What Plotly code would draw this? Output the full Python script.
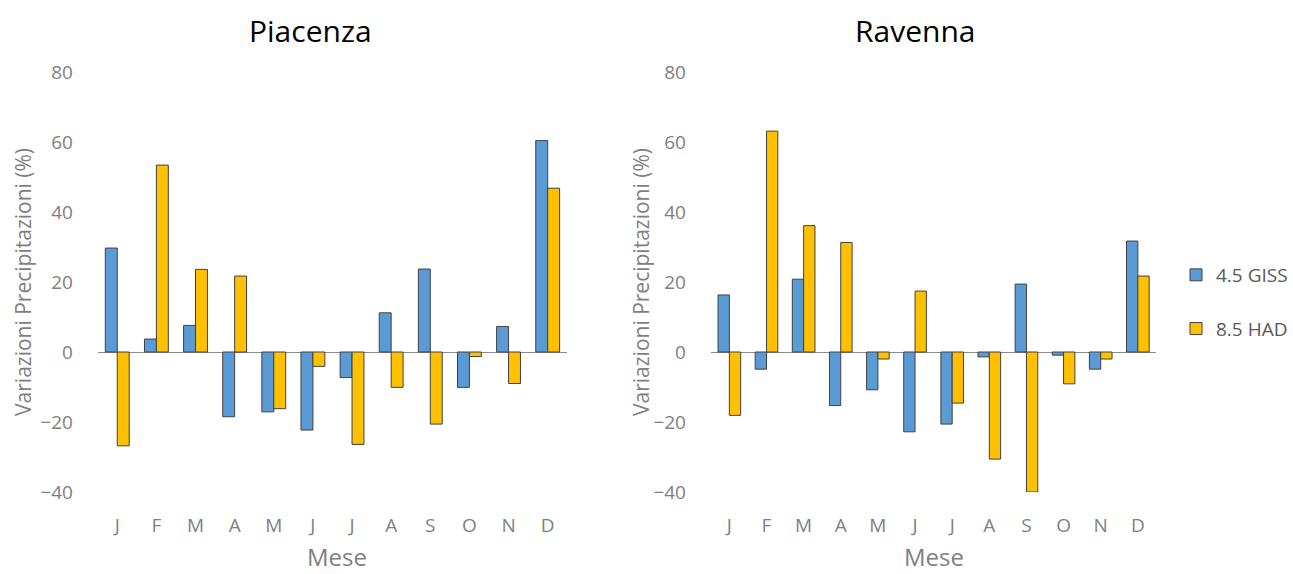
import plotly.graph_objects as go

# Monthly precipitation change (%) for two scenarios at two stations
months = ["J", "F", "M", "A", "M", "J", "J", "A", "S", "O", "N", "D"]
month_ids = list(range(12))

piacenza_giss = [29.7, 3.7, 7.6, -18.5, -17.1, -22.3, -7.3, 11.2, 23.7, -10.1, 7.3, 60.4]
piacenza_had = [-26.8, 53.4, 23.6, 21.7, -16.2, -4.1, -26.4, -10.1, -20.6, -1.3, -9.0, 46.8]

ravenna_giss = [16.3, -4.9, 20.8, -15.3, -10.8, -22.8, -20.6, -1.4, 19.4, -0.9, -4.9, 31.7]
ravenna_had = [-18.1, 63.1, 36.1, 31.3, -2.0, 17.4, -14.6, -30.6, -40.0, -9.1, -2.0, 21.7]

series_names = ["4.5 GISS", "8.5 HAD"]
series_colors = ["#5B9BD5", "#FFC000"]
y_ticks = [-40, -20, 0, 20, 40, 60, 80]

GRAY = "#7f7f7f"
FONT = "Open Sans"
W, H = 1293, 574

fig = go.Figure()

panels = [
    ("x", "y", [piacenza_giss, piacenza_had], True),
    ("x2", "y2", [ravenna_giss, ravenna_had], False),
]
for xa, ya, data, show in panels:
    for i, vals in enumerate(data):
        fig.add_trace(go.Bar(
            x=month_ids, y=vals, name=series_names[i],
            marker=dict(color=series_colors[i], line=dict(color="#404040", width=1)),
            xaxis=xa, yaxis=ya, showlegend=show, legendgroup=series_names[i],
        ))

x_common = dict(
    tickmode="array", tickvals=month_ids, ticktext=months,
    range=[-0.5, 11.5], showline=False, showgrid=False, zeroline=False,
    ticks="outside", ticklen=0, tickcolor="white", ticklabelstandoff=16,
    tickfont=dict(family=FONT, size=19, color=GRAY), automargin=False,
)
y_common = dict(
    range=[-40, 80], tickvals=y_ticks, showgrid=False, showline=False,
    zeroline=True, zerolinecolor="#8c8c8c", zerolinewidth=1.2,
    ticks="outside", ticklen=0, tickcolor="white", ticklabelstandoff=20,
    tickfont=dict(family=FONT, size=19, color=GRAY), automargin=False,
)

fig.update_layout(
    width=W, height=H,
    margin=dict(l=0, r=0, t=0, b=0),
    paper_bgcolor="white", plot_bgcolor="white",
    barmode="group", bargap=0.39, bargroupgap=0,
    xaxis=dict(domain=[98 / W, 569 / W], anchor="y", **x_common),
    yaxis=dict(domain=[1 - 492 / H, 1 - 72 / H], anchor="x", **y_common),
    xaxis2=dict(domain=[713 / W, 1160 / W], anchor="y2", **x_common),
    yaxis2=dict(domain=[1 - 492 / H, 1 - 72 / H], anchor="x2", **y_common),
    legend=dict(
        x=1180 / W, y=1 - 302 / H, xanchor="left", yanchor="middle",
        font=dict(family=FONT, size=19, color="#595959"),
        tracegroupgap=26, itemwidth=30,
    ),
    font=dict(family=FONT),
)

annotations = [
    dict(text="Piacenza", x=311, y=30, size=30, color="#000000", angle=0),
    dict(text="Ravenna", x=918, y=30, size=30, color="#000000", angle=0),
    dict(text="Mese", x=338, y=556, size=24, color=GRAY, angle=0),
    dict(text="Mese", x=937, y=556, size=24, color=GRAY, angle=0),
    dict(text="Variazioni Precipitazioni (%)", x=23, y=282, size=21, color=GRAY, angle=-90),
    dict(text="Variazioni Precipitazioni (%)", x=643, y=282, size=21, color=GRAY, angle=-90),
]
for a in annotations:
    fig.add_annotation(
        text=a["text"], xref="paper", yref="paper",
        x=a["x"] / W, y=1 - a["y"] / H, xanchor="center", yanchor="middle",
        showarrow=False, textangle=a["angle"],
        font=dict(family=FONT, size=a["size"], color=a["color"]),
    )

fig.write_html("out.html")
